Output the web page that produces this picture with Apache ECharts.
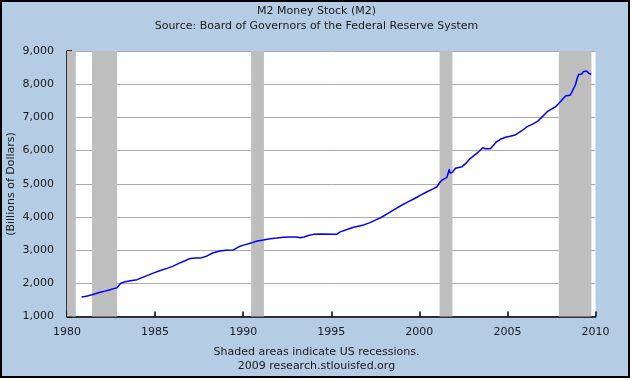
<!DOCTYPE html>
<html>
<head>
<meta charset="utf-8">
<script src="https://cdn.jsdelivr.net/npm/echarts@6/dist/echarts.min.js"></script>
<style>
  html, body { margin: 0; padding: 0; background: #fff; }
  #frame { position: absolute; left: 0; top: 0; width: 626px; height: 374px; border: 2px solid #000; background: #B4CDE5; }
  #c { position: absolute; left: 0; top: 0; width: 633px; height: 381px; }
</style>
</head>
<body>
<div id="frame"></div>
<div id="c"></div>
<script>
// Decimal years and M2 values (billions of dollars)
var years = [
  1980.83, 1981.0, 1981.15, 1981.42, 1981.7, 1981.9, 1982.15, 1982.4, 1982.65, 1982.84,
  1982.95, 1983.05, 1983.3, 1983.6, 1983.98, 1984.36, 1984.65, 1984.93, 1985.3, 1985.68,
  1986.0, 1986.35, 1986.7, 1987.0, 1987.3, 1987.57, 1987.95, 1988.3, 1988.7, 1989.0,
  1989.45, 1989.75, 1990.02, 1990.5, 1990.8, 1991.15, 1991.53, 1991.9, 1992.3, 1992.67,
  1993.0, 1993.24, 1993.45, 1993.7, 1994.0, 1994.5, 1995.0, 1995.32, 1995.51, 1995.9,
  1996.27, 1996.84, 1997.2, 1997.5, 1997.85, 1998.17, 1998.5, 1998.92, 1999.3, 1999.68,
  2000.05, 2000.44, 2000.75, 2001.0, 2001.15, 2001.29, 2001.57, 2001.68, 2001.7, 2001.74,
  2001.86, 2002.05, 2002.43, 2002.65, 2002.9, 2003.15, 2003.37, 2003.6, 2003.75, 2004.03,
  2004.2, 2004.38, 2004.6, 2004.89, 2005.15, 2005.45, 2005.8, 2006.12, 2006.4, 2006.69,
  2007.0, 2007.26, 2007.5, 2007.73, 2008.01, 2008.15, 2008.3, 2008.58, 2008.66, 2008.73,
  2008.86, 2008.96, 2009.05, 2009.15, 2009.24, 2009.3, 2009.4, 2009.49, 2009.55, 2009.62,
  2009.7, 2009.76
];
var m2 = [
  1590, 1605, 1620, 1655, 1700, 1730, 1765, 1800, 1840, 1868,
  1905, 2000, 2045, 2075, 2110, 2195, 2255, 2315, 2385, 2450,
  2510, 2600, 2680, 2750, 2760, 2760, 2825, 2920, 2975, 2995,
  3005, 3100, 3150, 3225, 3275, 3305, 3345, 3365, 3390, 3395,
  3395, 3375, 3395, 3440, 3475, 3485, 3480, 3480, 3550, 3620,
  3690, 3760, 3830, 3905, 3990, 4090, 4200, 4330, 4440, 4540,
  4650, 4760, 4840, 4910, 5030, 5110, 5195, 5250, 5435, 5320,
  5335, 5465, 5515, 5620, 5765, 5870, 5965, 6085, 6055, 6055,
  6150, 6265, 6340, 6400, 6430, 6470, 6590, 6720, 6790, 6870,
  7030, 7170, 7250, 7320, 7470, 7560, 7645, 7675, 7700, 7845,
  7975, 8180, 8295, 8300, 8310, 8375, 8360, 8400, 8360, 8330,
  8310, 8295
];
// Recession periods (start, end) in decimal years
var recessionStarts = [1980.0, 1981.42, 1990.45, 2001.15, 2007.92];
var recessionEnds   = [1980.5, 1982.84, 1991.18, 2001.88, 2009.77];
var yTicks = [1000, 9000, 1000]; // min, max, interval
var xTicks = [1980, 2010, 5];

var FONT = 'DejaVu Sans';
var TXT = '#1a1a1a';

var data = years.map(function (y, i) { return [y, m2[i]]; });
var bands = recessionStarts.map(function (s, i) { return [{ xAxis: s }, { xAxis: recessionEnds[i] }]; });

var chart = echarts.init(document.getElementById('c'), null, { renderer: 'canvas' });
chart.setOption({
  backgroundColor: 'transparent',
  animation: false,
  title: [
    { text: 'M2 Money Stock (M2)', left: 'center', top: 1,
      textStyle: { fontFamily: FONT, fontSize: 11, fontWeight: 'normal', color: TXT } },
    { text: 'Source: Board of Governors of the Federal Reserve System', left: 'center', top: 16,
      textStyle: { fontFamily: FONT, fontSize: 11, fontWeight: 'normal', color: TXT } },
    { text: 'Shaded areas indicate US recessions.', left: 'center', top: 342,
      textStyle: { fontFamily: FONT, fontSize: 11, fontWeight: 'normal', color: TXT } },
    { text: '2009 research.stlouisfed.org', left: 'center', top: 356,
      textStyle: { fontFamily: FONT, fontSize: 11, fontWeight: 'normal', color: TXT } }
  ],
  graphic: [
    { type: 'text', x: 11, y: 184, rotation: Math.PI / 2,
      style: { text: '(Billions of Dollars)', font: '11px "DejaVu Sans"', fill: TXT,
        textAlign: 'center', textVerticalAlign: 'middle' } }
  ],
  grid: { left: 67, right: 37.5, top: 51, bottom: 64.5, show: true, backgroundColor: '#ffffff',
    borderWidth: 0 },
  xAxis: {
    type: 'value', min: xTicks[0], max: xTicks[1], interval: xTicks[2],
    axisLine: { show: true, onZero: false, lineStyle: { color: '#000', width: 1.5 } },
    axisTick: { show: true, inside: true, length: 5, lineStyle: { color: '#000', width: 1.5 } },
    axisLabel: { fontFamily: FONT, fontSize: 11, color: TXT, margin: 10,
      formatter: function (v) { return String(v); } },
    splitLine: { show: false }
  },
  yAxis: {
    type: 'value', min: yTicks[0], max: yTicks[1], interval: yTicks[2],
    axisLine: { show: true, lineStyle: { color: '#000', width: 1.5 } },
    axisTick: { show: true, inside: true, length: 5, lineStyle: { color: '#000', width: 1.5 } },
    axisLabel: { fontFamily: FONT, fontSize: 11, color: TXT, margin: 7, padding: [0, 6, 0, 0],
      formatter: function (v) { return v.toLocaleString('en-US'); } },
    splitLine: { show: true, lineStyle: { color: '#AAAAAA', width: 1 } }
  },
  series: [{
    type: 'line',
    data: data,
    showSymbol: false,
    lineStyle: { color: '#0000FF', width: 1.5 },
    markArea: {
      silent: true,
      itemStyle: { color: '#BEBEBE', opacity: 1 },
      data: bands
    }
  }]
});
</script>
</body>
</html>
